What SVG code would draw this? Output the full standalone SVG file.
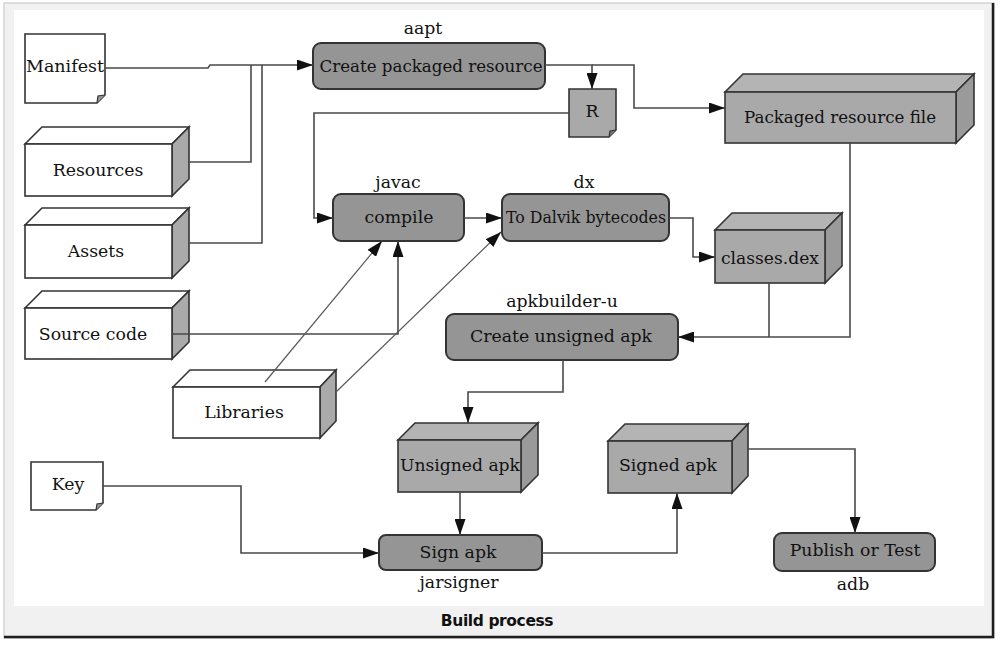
<svg xmlns="http://www.w3.org/2000/svg" width="1001" height="646" viewBox="0 0 1001 646">
  <style>
    .lbl { font-family: "DejaVu Serif", "Liberation Serif", serif; font-size: 17.3px; fill: #111; text-anchor: middle; }
    .proc { fill: #959595; stroke: #333; stroke-width: 2; }
    .front { fill: #a9a9a9; stroke: #333; stroke-width: 1.6; }
    .top { fill: #b4b4b4; stroke: #333; stroke-width: 1.6; }
    .side { fill: #9a9a9a; stroke: #333; stroke-width: 1.6; }
    .wfront { fill: #fff; stroke: #333; stroke-width: 1.6; }
    .wtop { fill: #fff; stroke: #333; stroke-width: 1.6; }
    .wside { fill: #aaa; stroke: #333; stroke-width: 1.6; }
    .note { fill: #fff; stroke: #333; stroke-width: 1.6; }
    .gnote { fill: #a9a9a9; stroke: #333; stroke-width: 1.6; }
    .edge { fill: none; stroke: #4a4a4a; stroke-width: 1.6; }
    .thin { fill: none; stroke: #5a5a5a; stroke-width: 1.2; }
    .caption { font-family: "DejaVu Sans", "Liberation Sans", sans-serif; font-weight: bold; font-size: 15.5px; fill: #111; text-anchor: middle; letter-spacing: -0.4px; }
  </style>
  <defs>
    <marker id="arrow" markerUnits="userSpaceOnUse" markerWidth="16" markerHeight="11" refX="16" refY="5.5" orient="auto">
      <path d="M0,0 L16,5.5 L0,11 z" fill="#111"/>
    </marker>
  </defs>

  <!-- window frame -->
  <rect x="0" y="0" width="1001" height="646" fill="#fff"/>
  <rect x="4" y="3" width="990" height="635" fill="#f1f1f1" stroke="#d4d4d4" stroke-width="1.5"/>
  <rect x="14" y="10" width="970" height="596" fill="#fff"/>
  <path d="M993,3 V637 H4" fill="none" stroke="#1e1e1e" stroke-width="2.5"/>
  <text class="caption" x="497" y="626">Build process</text>

  <!-- inputs -->
  <g id="manifest">
    <path class="note" d="M25,34 H105 V95 L97,103 H25 Z"/>
    <path d="M97,103 L98,96 L105,95" fill="#999" stroke="#333" stroke-width="1.2"/>
    <text class="lbl" x="65" y="72" textLength="78" lengthAdjust="spacingAndGlyphs">Manifest</text>
  </g>

  <g id="resources">
    <path class="wtop" d="M25,144 L42,127 H189 L172,144 Z"/>
    <path class="wside" d="M172,144 L189,127 V179 L172,196 Z"/>
    <rect class="wfront" x="25" y="144" width="147" height="52"/>
    <text class="lbl" x="98" y="176">Resources</text>
  </g>

  <g id="assets">
    <path class="wtop" d="M25,225 L42,208 H189 L172,225 Z"/>
    <path class="wside" d="M172,225 L189,208 V261 L172,278 Z"/>
    <rect class="wfront" x="25" y="225" width="147" height="53"/>
    <text class="lbl" x="96" y="257">Assets</text>
  </g>

  <g id="source-code">
    <path class="wtop" d="M25,308 L42,291 H189 L172,308 Z"/>
    <path class="wside" d="M172,308 L189,291 V342 L172,359 Z"/>
    <rect class="wfront" x="25" y="308" width="147" height="51"/>
    <text class="lbl" x="93" y="340">Source code</text>
  </g>

  <g id="libraries">
    <path class="wtop" d="M173,387 L190,370 H336 L320,387 Z"/>
    <path class="wside" d="M320,387 L336,370 V421 L320,438 Z"/>
    <rect class="wfront" x="173" y="387" width="147" height="51"/>
    <text class="lbl" x="244" y="418">Libraries</text>
  </g>

  <g id="key">
    <path class="note" d="M31,462 H103 V503 L96,510 H31 Z"/>
    <path d="M96,510 L97,504 L103,503" fill="#999" stroke="#333" stroke-width="1.2"/>
    <text class="lbl" x="68" y="490">Key</text>
  </g>

  <!-- processing steps -->
  <g id="aapt">
    <rect class="proc" x="313" y="43" width="232" height="46" rx="8"/>
    <text class="lbl" x="431" y="72" textLength="223" lengthAdjust="spacingAndGlyphs">Create packaged resource</text>
    <text class="lbl" x="423" y="34">aapt</text>
  </g>

  <g id="r-file">
    <path class="gnote" d="M569,89 H616 V130 L609,137 H569 Z"/>
    <path d="M609,137 L610,131 L616,130" fill="#777" stroke="#333" stroke-width="1.2"/>
    <text class="lbl" x="592" y="117">R</text>
  </g>

  <g id="packaged-resource-file">
    <path class="top" d="M725,92 L743,74 H974 L956,92 Z"/>
    <path class="side" d="M956,92 L974,74 V125 L956,143 Z"/>
    <rect class="front" x="725" y="92" width="231" height="51"/>
    <text class="lbl" x="840" y="123" textLength="192" lengthAdjust="spacingAndGlyphs">Packaged resource file</text>
  </g>

  <g id="javac">
    <rect class="proc" x="333" y="194" width="131" height="47" rx="8"/>
    <text class="lbl" x="399" y="223">compile</text>
    <text class="lbl" x="398" y="188">javac</text>
  </g>

  <g id="dx">
    <rect class="proc" x="502" y="194" width="167" height="47" rx="8"/>
    <text class="lbl" x="586" y="223" textLength="160" lengthAdjust="spacingAndGlyphs">To Dalvik bytecodes</text>
    <text class="lbl" x="584" y="188">dx</text>
  </g>

  <g id="classes-dex">
    <path class="top" d="M715,230 L732,213 H842 L825,230 Z"/>
    <path class="side" d="M825,230 L842,213 V266 L825,283 Z"/>
    <rect class="front" x="715" y="230" width="110" height="53"/>
    <text class="lbl" x="770" y="264" textLength="98" lengthAdjust="spacingAndGlyphs">classes.dex</text>
  </g>

  <g id="apkbuilder">
    <rect class="proc" x="446" y="314" width="232" height="46" rx="8"/>
    <text class="lbl" x="561" y="342">Create unsigned apk</text>
    <text class="lbl" x="562" y="307">apkbuilder-u</text>
  </g>

  <g id="unsigned-apk">
    <path class="top" d="M398,440 L415,423 H538 L521,440 Z"/>
    <path class="side" d="M521,440 L538,423 V475 L521,492 Z"/>
    <rect class="front" x="398" y="440" width="123" height="52"/>
    <text class="lbl" x="460" y="471" textLength="120" lengthAdjust="spacingAndGlyphs">Unsigned apk</text>
  </g>

  <g id="jarsigner">
    <rect class="proc" x="379" y="535" width="163" height="35" rx="7"/>
    <text class="lbl" x="458" y="558">Sign apk</text>
    <text class="lbl" x="459" y="588">jarsigner</text>
  </g>

  <g id="signed-apk">
    <path class="top" d="M608,441 L625,424 H748 L732,441 Z"/>
    <path class="side" d="M732,441 L748,424 V476 L732,493 Z"/>
    <rect class="front" x="608" y="441" width="124" height="52"/>
    <text class="lbl" x="668" y="471">Signed apk</text>
  </g>

  <g id="adb">
    <rect class="proc" x="774" y="533" width="161" height="38" rx="8"/>
    <text class="lbl" x="855" y="556">Publish or Test</text>
    <text class="lbl" x="853" y="590">adb</text>
  </g>

  <!-- connectors -->
  <g id="connectors">
    <path class="edge" d="M105,68 H208 L210,65 H313" marker-end="url(#arrow)"/>
    <path class="edge" d="M189,162 H251 V65"/>
    <path class="edge" d="M189,243 H262 V65"/>
    <path class="edge" d="M545,65 H592 V89" marker-end="url(#arrow)"/>
    <path class="edge" d="M592,65 H634 V108 H725" marker-end="url(#arrow)"/>
    <path class="edge" d="M569,113 H314 V218 H333" marker-end="url(#arrow)"/>
    <path class="edge" d="M172,334 H398 V241" marker-end="url(#arrow)"/>
    <path class="thin" d="M265,382 L382,241" marker-end="url(#arrow)"/>
    <path class="thin" d="M336,392 L501,232" marker-end="url(#arrow)"/>
    <path class="edge" d="M464,218 H502" marker-end="url(#arrow)"/>
    <path class="edge" d="M669,218 H693 V257 H715" marker-end="url(#arrow)"/>
    <path class="edge" d="M850,143 V337 H678" marker-end="url(#arrow)"/>
    <path class="edge" d="M769,283 V337"/>
    <path class="edge" d="M563,360 V392 H468 V423" marker-end="url(#arrow)"/>
    <path class="edge" d="M460,492 V535" marker-end="url(#arrow)"/>
    <path class="edge" d="M103,486 H241 V553 H379" marker-end="url(#arrow)"/>
    <path class="edge" d="M542,553 H677 V493" marker-end="url(#arrow)"/>
    <path class="edge" d="M748,449 H855 V533" marker-end="url(#arrow)"/>
  </g>
</svg>
